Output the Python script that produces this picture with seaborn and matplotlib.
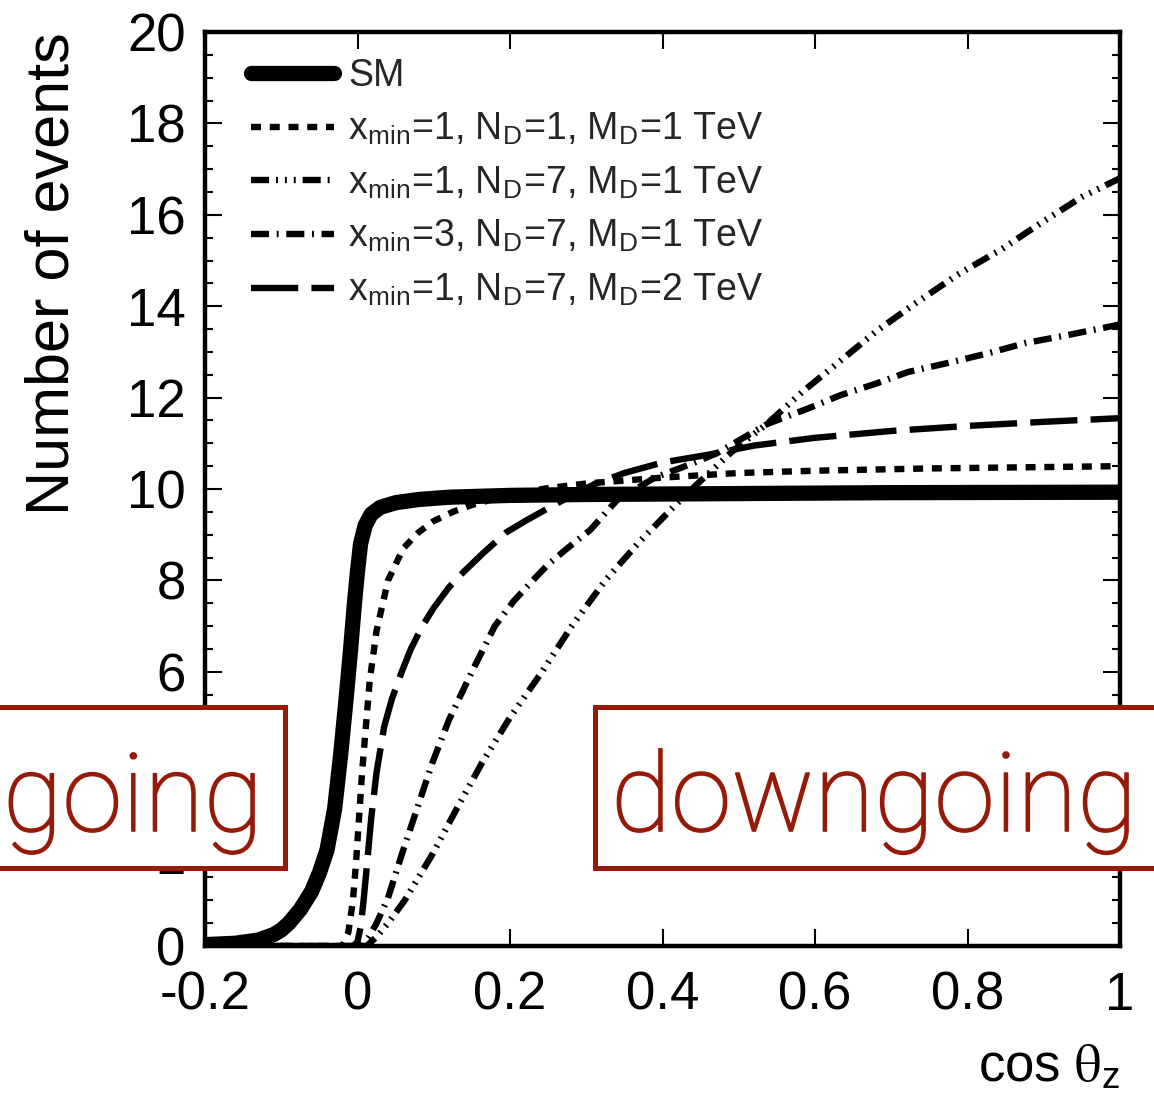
import numpy as np
import pandas as pd
import matplotlib
matplotlib.use("Agg")
import matplotlib.pyplot as plt
import seaborn as sns
from matplotlib.patches import Rectangle
from matplotlib.ticker import MultipleLocator, FixedLocator
import matplotlib.patheffects as pe

# ---------------- data ----------------
sm_x = [-0.2, -0.16, -0.13, -0.11, -0.1, -0.09, -0.075, -0.06, -0.05, -0.04, -0.03, -0.022,
        -0.015, -0.009, -0.004, 0.0, 0.004, 0.01, 0.018, 0.03, 0.05, 0.08, 0.12, 0.2, 0.3,
        0.5, 0.7, 1.0]
sm_y = [0.03, 0.06, 0.13, 0.25, 0.35, 0.5, 0.8, 1.2, 1.6, 2.1, 3.0, 4.2,
        5.4, 6.5, 7.5, 8.2, 8.8, 9.2, 9.45, 9.6, 9.7, 9.77, 9.82, 9.86, 9.88,
        9.9, 9.92, 9.93]

n1_x = [-0.2, -0.02, -0.012, -0.006, -0.002, 0.002, 0.006, 0.01, 0.016, 0.025, 0.04, 0.06,
        0.08, 0.1, 0.125, 0.15, 0.2, 0.25, 0.3, 0.4, 0.5, 0.6, 0.75, 0.9, 1.0]
n1_y = [0.0, 0.0, 0.3, 1.0, 1.8, 2.8, 3.8, 4.6, 5.8, 6.9, 8.0, 8.7,
        9.05, 9.3, 9.5, 9.65, 9.88, 10.02, 10.12, 10.25, 10.35, 10.4, 10.45, 10.48, 10.5]

n7_x = [-0.2, 0.012, 0.025, 0.04, 0.062, 0.08, 0.098, 0.13, 0.163, 0.2, 0.242, 0.281,
        0.325, 0.37, 0.414, 0.445, 0.49, 0.538, 0.583, 0.633, 0.681, 0.734, 0.788, 0.845,
        0.898, 0.95, 1.0]
n7_y = [0.0, 0.0, 0.2, 0.5, 1.0, 1.5, 2.0, 3.0, 4.0, 5.0, 6.0, 7.0,
        8.0, 8.85, 9.6, 10.1, 10.8, 11.44, 12.12, 12.8, 13.46, 14.09, 14.7, 15.25,
        15.84, 16.39, 16.8]

x3_x = [-0.2, 0.005, 0.015, 0.025, 0.04, 0.058, 0.078, 0.098, 0.12, 0.15, 0.18, 0.205,
        0.23, 0.25, 0.275, 0.305, 0.34, 0.39, 0.43, 0.471, 0.537, 0.589, 0.633, 0.679,
        0.722, 0.78, 0.827, 0.875, 0.932, 1.0]
x3_y = [0.0, 0.0, 0.2, 0.5, 1.05, 2.0, 3.0, 4.0, 4.95, 6.0, 7.0, 7.55,
        8.0, 8.35, 8.7, 9.1, 9.75, 10.25, 10.5, 10.78, 11.42, 11.75, 12.05, 12.3,
        12.56, 12.78, 12.97, 13.19, 13.37, 13.6]

m2_x = [-0.2, -0.005, 0.0, 0.004, 0.008, 0.012, 0.018, 0.025, 0.035, 0.045, 0.058, 0.07,
        0.085, 0.1, 0.12, 0.14, 0.165, 0.195, 0.22, 0.25, 0.28, 0.31, 0.35, 0.4, 0.46,
        0.52, 0.6, 0.7, 0.8, 0.9, 1.0]
m2_y = [0.0, 0.0, 0.1, 0.4, 1.0, 1.7, 2.8, 3.8, 4.8, 5.4, 6.0, 6.5,
        7.0, 7.4, 7.85, 8.2, 8.6, 9.05, 9.3, 9.58, 9.85, 10.1, 10.35, 10.58, 10.75,
        10.95, 11.12, 11.27, 11.38, 11.47, 11.55]

labels = ["SM",
          r"x$_\mathregular{min}$=1, N$_\mathregular{D}$=1, M$_\mathregular{D}$=1 TeV",
          r"x$_\mathregular{min}$=1, N$_\mathregular{D}$=7, M$_\mathregular{D}$=1 TeV",
          r"x$_\mathregular{min}$=3, N$_\mathregular{D}$=7, M$_\mathregular{D}$=1 TeV",
          r"x$_\mathregular{min}$=1, N$_\mathregular{D}$=7, M$_\mathregular{D}$=2 TeV"]

xticks = [-0.2, 0.0, 0.2, 0.4, 0.6, 0.8, 1.0]
xtick_labels = ["-0.2", "0", "0.2", "0.4", "0.6", "0.8", "1"]
yticks = [0, 2, 4, 6, 8, 10, 12, 14, 16, 18, 20]
ytick_labels = [str(v) for v in yticks]

# ---------------- style ----------------
sns.set_style("ticks")
plt.rcParams["font.family"] = ["Liberation Sans", "DejaVu Sans"]
plt.rcParams["mathtext.fontset"] = "stix"
plt.rcParams["lines.scale_dashes"] = False

W, H = 1154, 1105
fig = plt.figure(figsize=(W / 100, H / 100), dpi=100)
fig.patch.set_facecolor("white")
ax = fig.add_axes([205 / W, 1 - 946 / H, 915 / W, 914 / H])

series = [
    (sm_x, sm_y, 11.0, "-"),
    (n1_x, n1_y, 4.6, (0, (7.2, 6.3))),
    (n7_x, n7_y, 4.6, (0, (13, 5, 1.4, 5, 1.4, 5, 1.4, 5))),
    (x3_x, x3_y, 4.6, (0, (13, 5.5, 1.4, 5.5))),
    (m2_x, m2_y, 4.6, (0, (34, 9.5))),
]
for (xs, ys, lw, ls), lab in zip(series, labels):
    sns.lineplot(x=xs, y=ys, ax=ax, color="black", linewidth=lw, linestyle=ls,
                 label=lab, estimator=None, sort=False)

ax.set_xlim(-0.2, 1.0)
ax.set_ylim(0, 20)
ax.xaxis.set_major_locator(FixedLocator(xticks))
ax.set_xticklabels(xtick_labels)
ax.yaxis.set_major_locator(FixedLocator(yticks))
ax.set_yticklabels(ytick_labels)
ax.yaxis.set_minor_locator(MultipleLocator(0.5))

for s in ax.spines.values():
    s.set_linewidth(3.2)
    s.set_color("black")
    s.set_visible(True)
ax.tick_params(which="both", direction="in", top=True, right=True, colors="black")
ax.tick_params(which="major", length=12, width=1.5, labelsize=38, pad=14)
ax.tick_params(axis="x", which="major", pad=18)
ax.tick_params(which="minor", length=5.5, width=1.5)

ax.set_ylabel("Number of events", fontsize=44, loc="top", color="black")
ax.yaxis.set_label_coords(-0.135, 1.0)
ax.set_xlabel(r"cos $\mathrm{\theta}_\mathregular{z}$", fontsize=38, loc="right",
              color="black")
ax.xaxis.set_label_coords(1.0, -0.106)

leg = ax.legend(loc="upper left", bbox_to_anchor=(46 / 915, 1 - 26 / 914), frameon=False,
                fontsize=27, handlelength=2.2, handletextpad=0.4, labelspacing=0.47,
                borderpad=0, borderaxespad=0)

# ---------------- overlay boxes ----------------
red = "#961a08"
y0 = 1 - 868 / H
bh = 161 / H
fig.add_artist(Rectangle((-10 / W, y0), 295 / W, bh, transform=fig.transFigure,
                         facecolor="white", edgecolor=red, linewidth=3.6, zorder=10))
fig.add_artist(Rectangle((595 / W, y0), 600 / W, bh, transform=fig.transFigure,
                         facecolor="white", edgecolor=red, linewidth=3.6, zorder=10))

fam = ["Roboto", "Lato", "DejaVu Sans"]
stroke = [pe.withStroke(linewidth=1.2, foreground=red)]
t1 = fig.text(263 / W, 1 - 831 / H, "going", ha="right", va="baseline", color=red,
              fontsize=75, family=fam, weight="light", zorder=11, path_effects=stroke)
t2 = fig.text(611 / W, 1 - 831 / H, "downgoing", ha="left", va="baseline", color=red,
              fontsize=75, family=fam, weight="light", zorder=11, path_effects=stroke)

fig.canvas.draw()
r = fig.canvas.get_renderer()
for t, target in ((t1, 260), (t2, 526)):
    w = t.get_window_extent(r).width
    t.set_fontsize(t.get_fontsize() * target / w)

fig.savefig("out.png", dpi=100, facecolor="white")
